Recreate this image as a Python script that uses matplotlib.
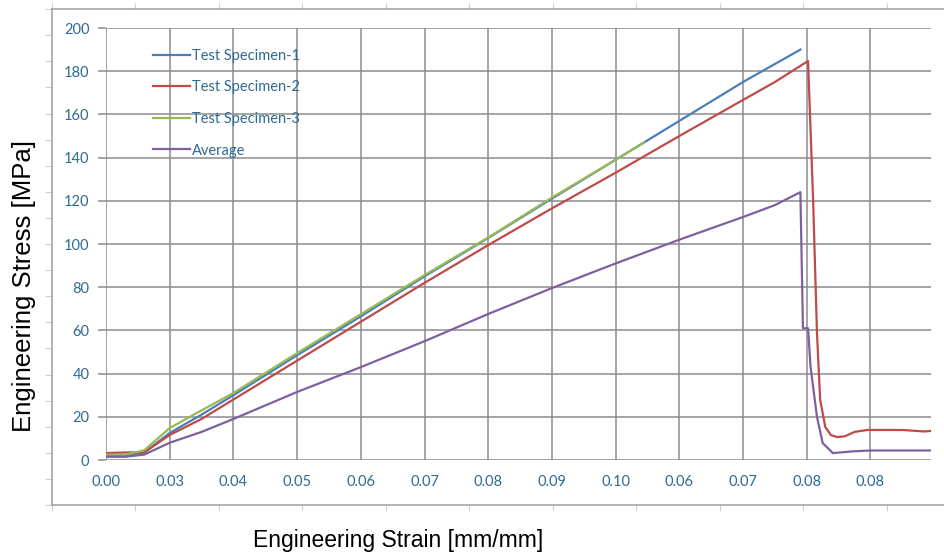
import numpy as np
import matplotlib
matplotlib.use("Agg")
from matplotlib import pyplot as plt

# x positions are in units of the chart's category ticks (0 = "0.00", 1 = second tick, ...)
tick_labels = ["0.00", "0.03", "0.04", "0.05", "0.06", "0.07", "0.08",
               "0.09", "0.10", "0.06", "0.07", "0.08", "0.08"]

spec1_x = [0, 0.3, 0.6, 1.0, 1.5, 2, 3, 4, 5, 6, 7, 8, 9, 10, 10.9]
spec1_y = [2, 2, 3.5, 12.5, 21, 30, 48.5, 66.5, 85, 102.8, 121, 139, 157, 175, 190]

spec2_x = [0, 0.3, 0.6, 1, 1.5, 2, 3, 4, 5, 6, 7, 8, 9, 10, 10.5, 11.02,
           11.1, 11.16, 11.21, 11.29, 11.38, 11.48, 11.6, 11.75, 11.95, 12.5, 12.85, 12.95]
spec2_y = [3.2, 3.5, 3.5, 11.6, 19, 28, 46, 64, 82, 99.5, 116.5, 133, 150, 166.7, 175, 184.7,
           120, 59, 28, 15.3, 11.5, 10.6, 11, 13, 13.9, 13.9, 13.2, 13.5]

spec3_x = [0, 0.3, 0.6, 1.0, 1.5, 2, 3, 4, 5, 6, 7, 8, 8.45]
spec3_y = [2.5, 2.5, 4.5, 14.8, 23, 31, 49.5, 67.5, 85.6, 103, 121.5, 139, 147]

avg_x = [0, 0.3, 0.6, 1, 1.5, 2, 3, 4, 5, 6, 7, 8, 9, 10, 10.5, 10.9, 10.94,
         11.02, 11.06, 11.16, 11.25, 11.41, 11.72, 12, 12.95]
avg_y = [1.5, 1.5, 2.5, 8, 13, 19, 31.5, 43, 55, 67.6, 79.6, 91, 102, 112.5, 118, 124, 61,
         61, 43, 20, 7.8, 3.2, 4, 4.4, 4.4]

W, H = 945, 559
fig = plt.figure(figsize=(W / 100, H / 100), dpi=100)

# outer frame with small ticks
ax0 = fig.add_axes([52 / W, 54 / H, (W - 52) / W + 0.02, 496 / H])
ax0.set_facecolor("none")
ax0.set_xlim(0, W - 52 + 19)
ax0.set_ylim(0, 496)
ax0.set_xticks(np.arange(0, W - 52, 83.5))
ax0.set_yticks(np.arange(0, 497, 26.1))
ax0.tick_params(axis="x", top=True, bottom=True, direction="out", length=4,
                color="#cfcfcf", labelbottom=False)
ax0.tick_params(axis="y", left=True, direction="out", length=5,
                color="#cfcfcf", labelleft=False)
for s in ["left", "top", "bottom"]:
    ax0.spines[s].set_color("#a6a6a6")
    ax0.spines[s].set_linewidth(1.2)
ax0.spines["right"].set_visible(False)

# main plot
ax = fig.add_axes([106 / W, (H - 460) / H, (931 - 106) / W, (460 - 28) / H])
ax.set_facecolor("none")
ax.plot(spec1_x, spec1_y, color="#4a7ebb", lw=1.6, label="Test Specimen-1")
ax.plot(spec2_x, spec2_y, color="#be4b48", lw=1.6, label="Test Specimen-2")
ax.plot(spec3_x, spec3_y, color="#98b954", lw=1.6, label="Test Specimen-3")
ax.plot(avg_x, avg_y, color="#7d60a0", lw=1.6, label="Average")

ax.set_xlim(0, 12.95)
ax.set_ylim(0, 200)
ax.set_xticks(range(len(tick_labels)))
ax.set_xticklabels(tick_labels)
ax.set_yticks(range(0, 201, 20))
ax.grid(True, color="#8c8c8c", lw=1.1)
for s in ax.spines.values():
    s.set_visible(False)
tick_col = "#2f6a90"
ax.tick_params(axis="x", length=0, pad=11, labelsize=10.5, labelcolor=tick_col)
ax.tick_params(axis="y", length=6, width=1.1, color="#8c8c8c", pad=6,
               labelsize=10.5, labelcolor=tick_col)
for t in ax.get_xticklabels() + ax.get_yticklabels():
    t.set_fontfamily("Lato")

ax.legend(loc="upper left", bbox_to_anchor=(153 / W, 1 - 49 / H),
          bbox_transform=fig.transFigure, frameon=False, borderpad=0,
          borderaxespad=0, handlelength=2.55, handletextpad=0.14,
          labelspacing=1.2, prop={"family": "Lato", "size": 10.5},
          labelcolor=tick_col)

fig.text(398 / W, 1 - 541 / H, "Engineering Strain [mm/mm]", ha="center", va="center",
         fontsize=16.5, family="Liberation Sans")
fig.text(24 / W, 1 - 286 / H, "Engineering Stress [MPa]", ha="center", va="center",
         rotation=90, fontsize=18.5, family="Liberation Sans")

fig.savefig("out.png", dpi=100)
